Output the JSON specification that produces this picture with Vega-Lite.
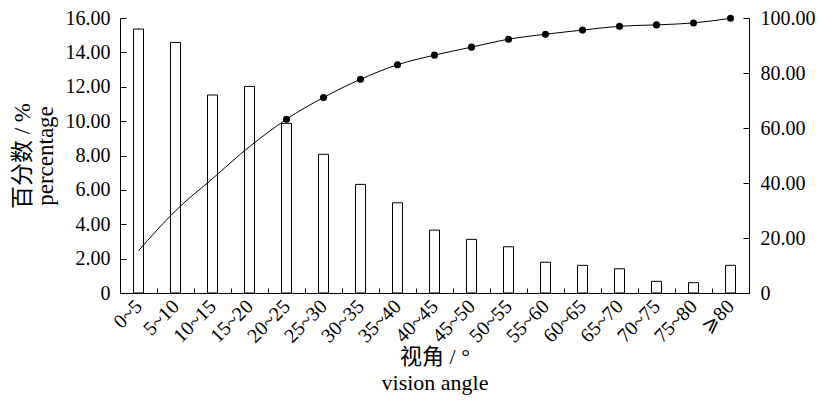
{
  "$schema": "https://vega.github.io/schema/vega-lite/v6.json",
  "width": 629,
  "height": 275,
  "autosize": "none",
  "padding": {"left": 120, "top": 18, "right": 70, "bottom": 109},
  "background": "white",
  "config": {
    "view": {"stroke": null},
    "font": "Liberation Serif, Noto Sans CJK SC",
    "axis": {
      "labelFont": "Liberation Serif, Noto Sans CJK SC",
      "titleFont": "Liberation Serif, Noto Sans CJK SC",
      "labelFontSize": 20,
      "titleFontSize": 22,
      "titleFontWeight": "normal",
      "labelColor": "black",
      "titleColor": "black",
      "domainColor": "black",
      "tickColor": "black",
      "domainWidth": 1,
      "tickWidth": 1,
      "grid": false
    }
  },
  "data": {
    "values": [
      {"angle": "0~5", "pct": 15.36, "cum": 15.36, "marker": false},
      {"angle": "5~10", "pct": 14.58, "cum": 29.9, "marker": false},
      {"angle": "10~15", "pct": 11.52, "cum": 41.6, "marker": false},
      {"angle": "15~20", "pct": 12.02, "cum": 53.2, "marker": false},
      {"angle": "20~25", "pct": 9.87, "cum": 63.2, "marker": true},
      {"angle": "25~30", "pct": 8.07, "cum": 71.1, "marker": true},
      {"angle": "30~35", "pct": 6.32, "cum": 77.7, "marker": true},
      {"angle": "35~40", "pct": 5.25, "cum": 83.0, "marker": true},
      {"angle": "40~45", "pct": 3.66, "cum": 86.5, "marker": true},
      {"angle": "45~50", "pct": 3.12, "cum": 89.4, "marker": true},
      {"angle": "50~55", "pct": 2.69, "cum": 92.3, "marker": true},
      {"angle": "55~60", "pct": 1.79, "cum": 94.1, "marker": true},
      {"angle": "60~65", "pct": 1.61, "cum": 95.6, "marker": true},
      {"angle": "65~70", "pct": 1.41, "cum": 97.0, "marker": true},
      {"angle": "70~75", "pct": 0.68, "cum": 97.5, "marker": true},
      {"angle": "75~80", "pct": 0.6, "cum": 98.2, "marker": true},
      {"angle": "⩾80", "pct": 1.61, "cum": 99.9, "marker": true}
    ]
  },
  "encoding": {
    "x": {
      "field": "angle",
      "type": "nominal",
      "sort": null,
      "scale": {"paddingInner": 0, "paddingOuter": 0},
      "axis": {
        "title": ["视角 / °", "vision angle"],
        "titleLineHeight": 26,
        "titlePadding": 0,
        "titleFontSize": 22,
        "labelAngle": -45,
        "labelAlign": "right",
        "labelBaseline": "middle",
        "labelPadding": 15,
        "labelDy": 6,
        "tickBand": "extent",
        "tickSize": -5,
        "labelFontSize": 20
      }
    }
  },
  "layer": [
    {
      "mark": {"type": "bar", "fill": "white", "stroke": "black", "strokeWidth": 1, "size": 10},
      "encoding": {
        "y": {
          "field": "pct",
          "type": "quantitative",
          "scale": {"domain": [0, 16], "nice": false},
          "axis": {
            "values": [0, 2, 4, 6, 8, 10, 12, 14, 16],
            "labelExpr": "datum.value == 0 ? '0' : format(datum.value, '.2f')",
            "tickSize": -6,
            "labelPadding": 16,
            "title": ["百分数 / %", "percentage"],
            "titleFontSize": 23,
            "titleLineHeight": 23,
            "titlePadding": 8
          }
        }
      }
    },
    {
      "mark": {"type": "line", "color": "black", "strokeWidth": 1, "interpolate": "monotone"},
      "encoding": {
        "y": {
          "field": "cum",
          "type": "quantitative",
          "scale": {"domain": [0, 100], "nice": false},
          "axis": {
            "orient": "right",
            "values": [0, 20, 40, 60, 80, 100],
            "labelExpr": "datum.value == 0 ? '0' : format(datum.value, '.2f')",
            "tickSize": -6,
            "labelPadding": 17,
            "title": null
          }
        }
      }
    },
    {
      "transform": [{"filter": "datum.marker"}],
      "mark": {"type": "point", "filled": true, "color": "black", "opacity": 1, "size": 50},
      "encoding": {
        "y": {
          "field": "cum",
          "type": "quantitative",
          "scale": {"domain": [0, 100], "nice": false},
          "axis": null
        }
      }
    }
  ],
  "resolve": {"scale": {"y": "independent"}}
}
